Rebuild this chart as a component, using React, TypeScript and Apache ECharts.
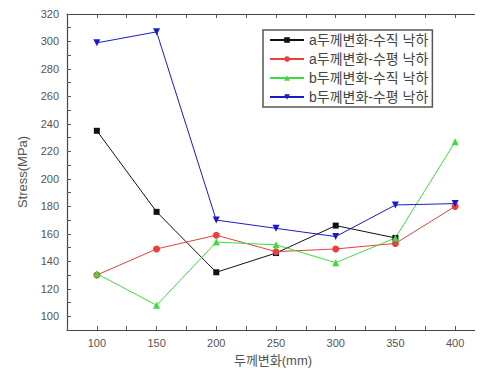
import React, { useEffect, useRef } from "react";
import * as echarts from "echarts";

const thickness = [100, 150, 200, 250, 300, 350, 400];
const aVertical = [235, 176, 132, 146, 166, 157, null];
const aHorizontal = [130, 149, 159, 147, 149, 153, 180];
const bVertical = [131, 108, 154, 152, 139, 157, 227];
const bHorizontal = [299, 307, 170, 164, 158, 181, 182];

const seriesNames = [
  "a두께변화-수직 낙하",
  "a두께변화-수평 낙하",
  "b두께변화-수직 낙하",
  "b두께변화-수평 낙하",
];

const FONT = "'Liberation Sans', Arial, 'Noto Sans CJK KR', sans-serif";

export default function App() {
  const ref = useRef<HTMLDivElement>(null);
  useEffect(() => {
    if (!ref.current) return;
    const chart = echarts.init(ref.current, null, { renderer: "svg" });
    const mkX = (pos: string, labels: boolean) => ({
      type: "value",
      position: pos,
      min: 75,
      max: 420,
      interval: 25,
      axisLine: { show: true, onZero: false, lineStyle: { color: "#444", width: 1.2 } },
      axisTick: { show: true, inside: true, length: 4, lineStyle: { color: "#555", width: 1 } },
      axisLabel: labels
        ? {
            show: true,
            color: "#555",
            fontSize: 11,
            fontFamily: FONT,
            margin: 7,
            formatter: (v: number) => (v >= 100 && v % 50 === 0 ? String(v) : ""),
          }
        : { show: false },
      splitLine: { show: false },
      name: labels ? "두께변화(mm)" : "",
      nameLocation: "middle",
      nameGap: 24,
      nameTextStyle: { color: "#555", fontSize: 13, fontFamily: FONT },
    });
    const mkY = (pos: string, labels: boolean) => ({
      type: "value",
      position: pos,
      min: 90,
      max: 320,
      interval: 10,
      axisLine: { show: true, onZero: false, lineStyle: { color: "#444", width: 1.2 } },
      axisTick: { show: true, inside: true, length: 4, lineStyle: { color: "#555", width: 1 } },
      axisLabel: labels
        ? {
            show: true,
            color: "#555",
            fontSize: 11,
            fontFamily: FONT,
            margin: 8,
            formatter: (v: number) => (v >= 100 && v % 20 === 0 ? String(v) : ""),
          }
        : { show: false },
      splitLine: { show: false },
      name: labels ? "Stress(MPa)" : "",
      nameLocation: "middle",
      nameGap: 38,
      nameTextStyle: { color: "#555", fontSize: 13, fontFamily: FONT },
    });
    const colors = ["#111111", "#e8403c", "#3ddc3d", "#1a1acc"];
    const symbols = ["rect", "circle", "triangle", "triangle"];
    const data = [aVertical, aHorizontal, bVertical, bHorizontal];
    chart.setOption({
      animation: false,
      backgroundColor: "#ffffff",
      grid: { left: 67, right: 4, top: 14, bottom: 50, containLabel: false },
      xAxis: [mkX("bottom", true), mkX("top", false)],
      yAxis: [mkY("left", true), mkY("right", false)],
      legend: {
        orient: "vertical",
        left: 263,
        top: 30,
        padding: [2, 4, 2, 6],
        itemGap: 3,
        itemWidth: 34,
        itemHeight: 7,
        borderColor: "#555",
        borderWidth: 1.5,
        borderRadius: 0,
        backgroundColor: "#ffffff",
        textStyle: { color: "#444", fontSize: 14, lineHeight: 16, fontFamily: FONT },
        data: seriesNames,
      },
      series: data.map((d, i) => ({
        name: seriesNames[i],
        type: "line",
        xAxisIndex: 0,
        yAxisIndex: 0,
        data: thickness.map((x, j) => [x, d[j]]),
        connectNulls: false,
        symbol: symbols[i],
        symbolRotate: i === 3 ? 180 : 0,
        symbolSize: i === 0 ? 6 : 7,
        showSymbol: true,
        lineStyle: { color: colors[i], width: 1 },
        itemStyle: { color: colors[i] },
      })),
    });
    return () => chart.dispose();
  }, []);
  return <div ref={ref} style={{ width: 483, height: 380, margin: -8 }} />;
}
